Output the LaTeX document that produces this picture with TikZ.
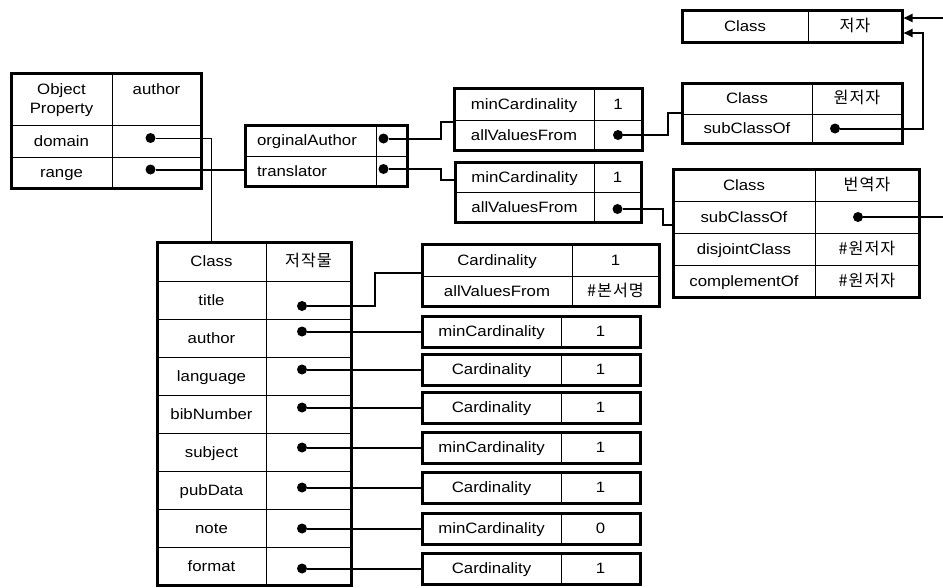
\documentclass[tikz,border=0pt]{standalone}
\usepackage{fontspec}
\setmainfont{Liberation Sans}[FakeStretch=1.12]
\newfontfamily\kr{Noto Sans CJK KR}[LetterSpace=6,Scale=1.08]
\usetikzlibrary{arrows.meta}

\tikzset{
  cell/.style={draw, line width=0.9pt, inner sep=0pt, outer sep=0pt, anchor=north west, align=center,
    text height=12pt, text depth=2pt},
  two/.style={text height=31pt, text depth=2pt},
  cw/.style={minimum width=#1pt},
  ch/.style={minimum height=#1pt},
  frame/.style={line width=3pt},
  dot/.style={circle, fill, inner sep=0pt, minimum size=10pt},
  conn/.style={line width=2pt},
  arr/.style={conn, -{Triangle[length=9pt,width=8pt]}},
}

\begin{document}
\begin{tikzpicture}[x=1pt, y=-1pt, font=\fontsize{15}{19}\selectfont]

    \path[use as bounding box, fill=white] (0,0) rectangle (943,587);

    % Object Property author
    \node[cell,two,cw=101,ch=52] (op-a) at (11,73) {Object\\Property};
    \node[cell,two,cw=89,ch=52] (op-b) at (op-a.north east) {author\\\mbox{}};
    \node[cell,cw=101,ch=32] (op-c) at (op-a.south west) {domain};
    \node[cell,cw=89,ch=32] (op-d) at (op-c.north east) {};
    \node[cell,cw=101,ch=31] (op-e) at (op-c.south west) {range};
    \node[cell,cw=89,ch=31] (op-f) at (op-e.north east) {};
    \draw[frame] (op-a.north west) rectangle (op-f.south east);
    \node[dot] (d-dom) at ([xshift=-6pt,yshift=3pt]op-d.center) {};
    \node[dot] (d-range) at ([xshift=-6pt,yshift=3pt]op-f.center) {};

    % orginalAuthor / translator
    \node[cell,cw=131,ch=31,text width=107pt,align=left] (at-a) at (245,125) {orginalAuthor};
    \node[cell,cw=31,ch=31] (at-b) at (at-a.north east) {};
    \node[cell,cw=131,ch=30,text width=107pt,align=left] (at-c) at (at-a.south west) {translator};
    \node[cell,cw=31,ch=30] (at-d) at (at-c.north east) {};
    \draw[frame] (at-a.north west) rectangle (at-d.south east);
    \node[dot] (d-orig) at ([xshift=-8pt,yshift=2pt]at-b.center) {};
    \node[dot] (d-tran) at ([xshift=-8pt,yshift=2pt]at-d.center) {};

    % restriccion de orginalAuthor
    \node[cell,cw=140,ch=32] (ra-a) at (454,88) {minCardinality};
    \node[cell,cw=48,ch=32] (ra-b) at (ra-a.north east) {1};
    \node[cell,cw=140,ch=30] (ra-c) at (ra-a.south west) {allValuesFrom};
    \node[cell,cw=48,ch=30] (ra-d) at (ra-c.north east) {};
    \draw[frame] (ra-a.north west) rectangle (ra-d.south east);
    \node[dot] (d-ra) at (ra-d.center) {};

    % restriccion de translator
    \node[cell,cw=139,ch=30] (rt-a) at (455,162) {minCardinality};
    \node[cell,cw=47,ch=30] (rt-b) at (rt-a.north east) {1};
    \node[cell,cw=139,ch=30] (rt-c) at (rt-a.south west) {allValuesFrom};
    \node[cell,cw=47,ch=30] (rt-d) at (rt-c.north east) {};
    \draw[frame] (rt-a.north west) rectangle (rt-d.south east);
    \node[dot] (d-rt) at ([yshift=-2pt]rt-d.center) {};

    % Class 저자
    \node[cell,cw=126,ch=32] (au-a) at (682,10) {Class};
    \node[cell,cw=94,ch=32] (au-b) at (au-a.north east) {\kr 저자};
    \draw[frame] (au-a.north west) rectangle (au-b.south east);

    % Class 원저자
    \node[cell,cw=130,ch=31] (ow-a) at (682,83) {Class};
    \node[cell,cw=90,ch=31] (ow-b) at (ow-a.north east) {\kr 원저자};
    \node[cell,cw=130,ch=29] (ow-c) at (ow-a.south west) {subClassOf};
    \node[cell,cw=90,ch=29] (ow-d) at (ow-c.north east) {};
    \draw[frame] (ow-a.north west) rectangle (ow-d.south east);
    \node[dot] (d-ow) at ([xshift=-22pt]ow-d.center) {};

    % Class 번역자
    \node[cell,cw=142,ch=32] (tr-a) at (673,169) {Class};
    \node[cell,cw=104,ch=32] (tr-b) at (tr-a.north east) {\kr 번역자};
    \node[cell,cw=142,ch=32] (tr-c) at (tr-a.south west) {subClassOf};
    \node[cell,cw=104,ch=32] (tr-d) at (tr-c.north east) {};
    \node[cell,cw=142,ch=32] (tr-e) at (tr-c.south west) {disjointClass};
    \node[cell,cw=104,ch=32] (tr-f) at (tr-e.north east) {\kr\#원저자};
    \node[cell,cw=142,ch=32] (tr-g) at (tr-e.south west) {complementOf};
    \node[cell,cw=104,ch=32] (tr-h) at (tr-g.north east) {\kr\#원저자};
    \draw[frame] (tr-a.north west) rectangle (tr-h.south east);
    \node[dot] (d-tr) at ([xshift=-9pt]tr-d.center) {};

    % Class 저작물
    \node[cell,cw=109,ch=39] (cls-a) at (157,242) {Class};
    \node[cell,cw=85,ch=39] (cls-b) at (cls-a.north east) {\kr 저작물};
    \node[cell,cw=109,ch=38] (t-title) at (cls-a.south west) {title};
    \node[cell,cw=85,ch=38] (v-title) at (t-title.north east) {};
    \node[cell,cw=109,ch=38] (t-author) at (t-title.south west) {author};
    \node[cell,cw=85,ch=38] (v-author) at (t-author.north east) {};
    \node[cell,cw=109,ch=38] (t-lang) at (t-author.south west) {language};
    \node[cell,cw=85,ch=38] (v-lang) at (t-lang.north east) {};
    \node[cell,cw=109,ch=38] (t-bib) at (t-lang.south west) {bibNumber};
    \node[cell,cw=85,ch=38] (v-bib) at (t-bib.north east) {};
    \node[cell,cw=109,ch=38] (t-subj) at (t-bib.south west) {subject};
    \node[cell,cw=85,ch=38] (v-subj) at (t-subj.north east) {};
    \node[cell,cw=109,ch=38] (t-pub) at (t-subj.south west) {pubData};
    \node[cell,cw=85,ch=38] (v-pub) at (t-pub.north east) {};
    \node[cell,cw=109,ch=38] (t-note) at (t-pub.south west) {note};
    \node[cell,cw=85,ch=38] (v-note) at (t-note.north east) {};
    \node[cell,cw=109,ch=38] (t-fmt) at (t-note.south west) {format};
    \node[cell,cw=85,ch=38] (v-fmt) at (t-fmt.north east) {};
    \draw[frame] (cls-a.north west) rectangle (v-fmt.south east);

    % restricciones de las propiedades
    \node[cell,cw=150,ch=32] (rc-a) at (422,244) {Cardinality};
    \node[cell,cw=87,ch=32] (rc-b) at (rc-a.north east) {1};
    \node[cell,cw=150,ch=30] (rc-c) at (rc-a.south west) {allValuesFrom};
    \node[cell,cw=87,ch=30] (rc-d) at (rc-c.north east) {\kr\#본서명};
    \draw[frame] (rc-a.north west) rectangle (rc-d.south east);

    \node[cell,cw=139,ch=31] (k-author) at (422,316) {minCardinality};
    \node[cell,cw=79,ch=31] (n-author) at (k-author.north east) {1};
    \draw[frame] (k-author.north west) rectangle (n-author.south east);
    \node[cell,cw=139,ch=31] (k-lang) at (422,354) {Cardinality};
    \node[cell,cw=79,ch=31] (n-lang) at (k-lang.north east) {1};
    \draw[frame] (k-lang.north west) rectangle (n-lang.south east);
    \node[cell,cw=139,ch=31] (k-bib) at (422,392) {Cardinality};
    \node[cell,cw=79,ch=31] (n-bib) at (k-bib.north east) {1};
    \draw[frame] (k-bib.north west) rectangle (n-bib.south east);
    \node[cell,cw=139,ch=31] (k-subj) at (422,432) {minCardinality};
    \node[cell,cw=79,ch=31] (n-subj) at (k-subj.north east) {1};
    \draw[frame] (k-subj.north west) rectangle (n-subj.south east);
    \node[cell,cw=139,ch=31] (k-pub) at (422,472) {Cardinality};
    \node[cell,cw=79,ch=31] (n-pub) at (k-pub.north east) {1};
    \draw[frame] (k-pub.north west) rectangle (n-pub.south east);
    \node[cell,cw=139,ch=31] (k-note) at (422,513) {minCardinality};
    \node[cell,cw=79,ch=31] (n-note) at (k-note.north east) {0};
    \draw[frame] (k-note.north west) rectangle (n-note.south east);
    \node[cell,cw=139,ch=31] (k-fmt) at (422,553) {Cardinality};
    \node[cell,cw=79,ch=31] (n-fmt) at (k-fmt.north east) {1};
    \draw[frame] (k-fmt.north west) rectangle (n-fmt.south east);

    % puntos del Class 저작물
    \node[dot] (d-title) at ([xshift=-6.5pt,yshift=-6pt]v-title.center) {};
    \node[dot,xshift=-6.5pt] (d-author) at (v-author.center |- k-author.west) {};
    \node[dot,xshift=-6.5pt] (d-lang) at (v-lang.center |- k-lang.west) {};
    \node[dot,xshift=-6.5pt] (d-bib) at (v-bib.center |- k-bib.west) {};
    \node[dot,xshift=-6.5pt] (d-subj) at (v-subj.center |- k-subj.west) {};
    \node[dot,xshift=-6.5pt] (d-pub) at (v-pub.center |- k-pub.west) {};
    \node[dot,xshift=-6.5pt] (d-note) at (v-note.center |- k-note.west) {};
    \node[dot,xshift=-6.5pt] (d-fmt) at (v-fmt.center |- k-fmt.west) {};

    % conectores
    \draw[conn, line width=1pt] (d-dom) -| (cls-a.north);
    \draw[conn] (d-range) -- (d-range -| at-c.west);
    \draw[conn] (d-orig) -- ++(57,0) |- ([yshift=-2pt]ra-a.south west);
    \draw[conn] (d-tran) -- ++(57,0) |- ([yshift=-3pt]rt-a.west);
    \draw[conn] (d-ra) -- ++(50,0) |- ([yshift=1pt]ow-c.north west);
    \draw[conn] (d-rt) -- ++(45,0) |- ([yshift=-8pt]tr-c.west);
    \draw[arr] (d-ow) -- ++(88,0) |- ([xshift=1.5pt,yshift=-7pt]au-b.east);
    \draw[arr] (d-tr) -- ++(110,0) |- ([xshift=1.5pt,yshift=8pt]au-b.east);
    \draw[conn] (d-title) -- ++(73,0) |- ([yshift=3pt]rc-a.south west);
    \draw[conn] (d-author) -- (k-author.west);
    \draw[conn] (d-lang) -- (k-lang.west);
    \draw[conn] (d-bib) -- (k-bib.west);
    \draw[conn] (d-subj) -- (k-subj.west);
    \draw[conn] (d-pub) -- (k-pub.west);
    \draw[conn] (d-note) -- (k-note.west);
    \draw[conn] (d-fmt) -- (k-fmt.west);

\end{tikzpicture}
\end{document}
